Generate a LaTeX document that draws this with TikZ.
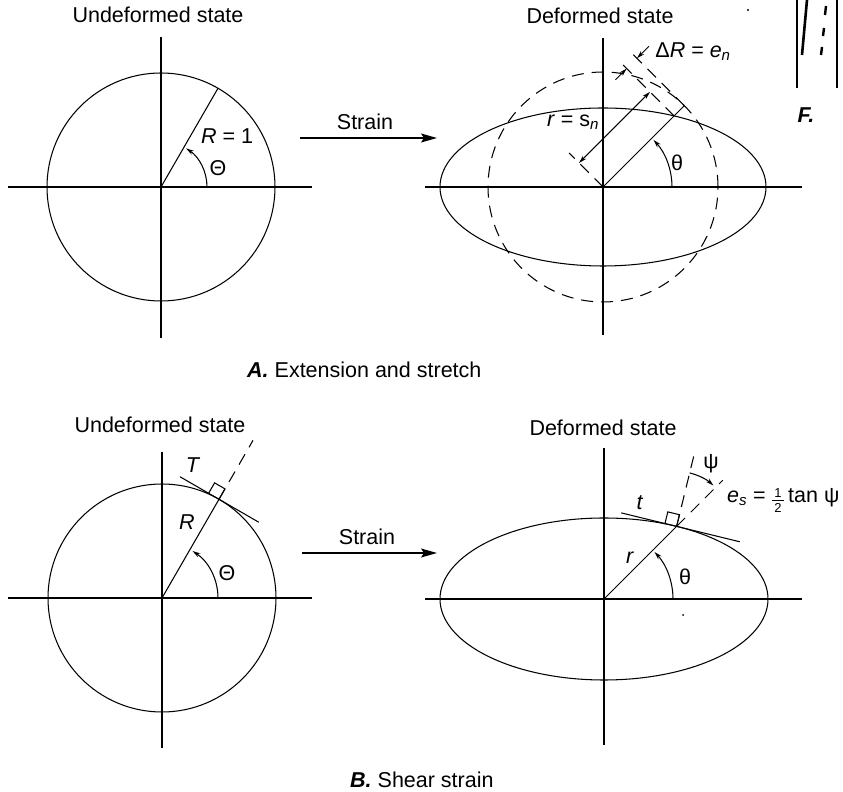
\documentclass[tikz,border=0pt]{standalone}
\usepackage{fontspec}
\setmainfont{Liberation Sans}
\usetikzlibrary{arrows.meta,calc}
\tikzset{
  axis/.style={line width=1.5pt},
  curve/.style={line width=1.05pt},
  dsh/.style={line width=1.05pt, dash pattern=on 12pt off 8pt},
  lbl/.style={font=\fontsize{21.5}{25}\selectfont, inner sep=0pt},
  fracnum/.style={font=\fontsize{13}{14}\selectfont, inner sep=0pt},
  tip/.style={-{Stealth[length=8pt,width=4.5pt]}},
  bitip/.style={{Stealth[length=8pt,width=4.5pt]}-{Stealth[length=8pt,width=4.5pt]}},
  strainarrow/.style={line width=1.5pt,-{Stealth[length=16pt,width=9pt,inset=3pt]}}
}
\begin{document}
\begin{tikzpicture}[x=1pt,y=1pt]
\useasboundingbox (0,0) rectangle (843,792);

% ---------- titles ----------
\node[lbl] (t1) at (158,777) {Undeformed state};
\node[lbl] (t2) at (600,776) {Deformed state};
\node[lbl] (t3) at (160,367) {Undeformed state};
\node[lbl] (t4) at (603,364) {Deformed state};
\node[lbl,anchor=west] (capA) at (247,422) {\textbf{\textit{A.}} Extension and stretch};
\node[lbl,anchor=west] (capB) at (350,12) {\textbf{\textit{B.}} Shear strain};

% ---------- strain arrows ----------
\coordinate (sa1) at (300,654); \coordinate (sa2) at (437,654);
\draw[strainarrow] (sa1) -- (sa2);
\node[lbl] (strainA) at (365,670) {Strain};
\coordinate (sb1) at (302,239); \coordinate (sb2) at (437,239);
\draw[strainarrow] (sb1) -- (sb2);
\node[lbl] (strainB) at (367,255) {Strain};

% ---------- Panel A, undeformed ----------
\begin{scope}[shift={(161,605)}]
  \coordinate (o1) at (0,0);
  \draw[axis] (-153,0) -- (151,0);
  \draw[axis] (0,150) -- (0,-151);
  \draw[curve] (o1) circle (114);
  \coordinate (p1) at (60:114);
  \draw[curve] (o1) -- (p1);
  \draw[curve,tip] (46,0) arc (0:57:46);
  \node[lbl] (thA) at (57,19) {Θ};
  \node[lbl] (RA) at (66,51) {\textit{R} = 1};
\end{scope}

% ---------- Panel A, deformed ----------
\begin{scope}[shift={(603,605)}]
  \coordinate (o2) at (0,0);
  \draw[axis] (-178,0) -- (199,0);
  \draw[axis] (0,149) -- (0,-148);
  \draw[curve] (o2) ellipse [x radius=163, y radius=79];
  \draw[dsh] (o2) circle (115);
  \coordinate (P) at (45:100.5);
  \coordinate (Q) at (45:115);
  \draw[curve] (o2) -- (Q);
  \draw[dsh] (o2) -- ++(135:48);
  \draw[dsh] (P) -- ++(135:75);
  \draw[dsh] (Q) -- ++(135:78);
  \draw[curve,bitip] ($(o2)+(135:34)$) -- ($(P)+(135:34)$);
  \draw[curve,tip] ($(P)+(135:67)+(225:16)$) -- ($(P)+(135:67)$);
  \draw[curve,tip] ($(Q)+(135:67)+(45:17)$) -- ($(Q)+(135:67)$);
  \draw[curve,tip] (69,0) arc (0:43:69);
  \node[lbl] (thB) at (74,24) {θ};
  \node[lbl] (dR) at (90,135) {Δ\textit{R} = \textit{e}\textsubscript{\textit{n}}};
  \node[lbl] (rs) at (-30,65) {\textit{r} = s\textsubscript{\textit{n}}};
\end{scope}

% ---------- top-right corner fragment ----------
\draw[curve] (797,792) -- (797,704);
\draw[curve] (837,792) -- (837,704);
\draw[line width=2.6pt] (807,792) -- (802,737);
\draw[line width=2.4pt] (826,786) -- (825,777);
\draw[line width=2.4pt] (824,764) -- (823,756);
\draw[line width=2.4pt] (822,745) -- (821,737);
\node[lbl] (F) at (806,677) {\textbf{\textit{F.}}};
\fill (748,782) circle (1.2);

% ---------- Panel B, undeformed ----------
\begin{scope}[shift={(162,194)}]
  \coordinate (o3) at (0,0);
  \draw[axis] (-154,0) -- (150,0);
  \draw[axis] (0,146) -- (0,-150);
  \draw[curve] (o3) circle (114);
  \coordinate (p3) at (60:114);
  \draw[curve] (o3) -- (p3);
  \draw[dsh] (p3) -- (60:182);
  \draw[curve] ($(p3)+(150:45)$) -- ($(p3)+(-30:46)$);
  \draw[curve] (p3) -- ++(60:12) -- ++(150:12) -- ++(240:12);
  \draw[curve,tip] (56,0) arc (0:57:56);
  \node[lbl] (thC) at (65,25) {Θ};
  \node[lbl] (RB) at (25,76) {\textit{R}};
  \node[lbl] (TB) at (31,133) {\textit{T}};
\end{scope}

% ---------- Panel B, deformed ----------
\begin{scope}[shift={(604,193)}]
  \coordinate (o4) at (0,0);
  \draw[axis] (-179,0) -- (198,0);
  \draw[axis] (0,151) -- (0,-146);
  \draw[curve] (o4) ellipse [x radius=164, y radius=81];
  \coordinate (p4) at (45:102.7);
  \draw[curve] (o4) -- (p4);
  \draw[dsh] (p4) -- (45:168);
  \draw[dsh] (p4) -- ++(76.3:72);
  \draw[curve] ($(p4)+(166.3:57)$) -- ($(p4)+(-13.7:65)$);
  \draw[curve] (p4) -- ++(76.3:12) -- ++(166.3:12) -- ++(256.3:12);
  \draw[curve,tip] ($(p4)+(76.3:55)$) arc (76.3:48:55);
  \draw[curve,tip] (69,0) arc (0:43:69);
  \node[lbl] (thD) at (81,22) {θ};
  \node[lbl] (tD) at (36,96) {\textit{t}};
  \node[lbl] (rD) at (26,41) {\textit{r}};
  \node[lbl] (psi) at (107,135) {ψ};
  \node[lbl,anchor=west] (es) at (123,101) {\textit{e}\textsubscript{\textit{s}} =};
  \node[fracnum] (one) at (174,106) {1};
  \node[fracnum] (two) at (174,91) {2};
  \draw[line width=0.8pt] (168,98.5) -- (180,98.5);
  \node[lbl,anchor=west] (tanpsi) at (184,101) {tan ψ};
  \fill (79,-16) circle (1);
\end{scope}
\end{tikzpicture}
\end{document}
